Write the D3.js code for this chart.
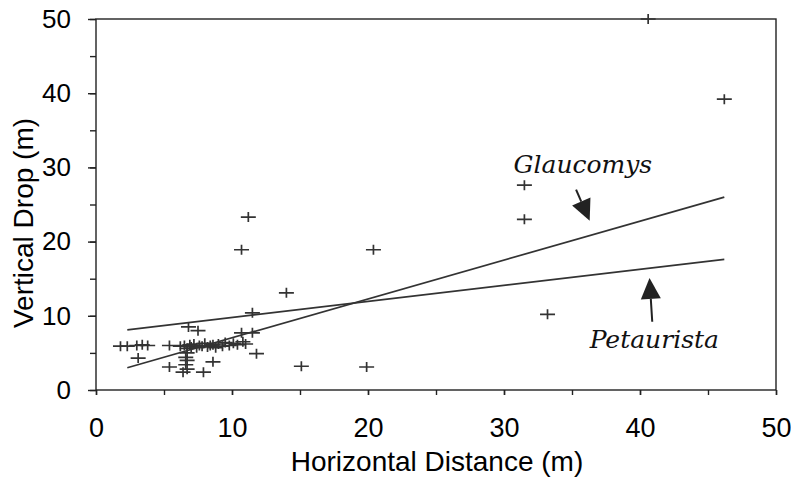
<!DOCTYPE html>
<html>
<head>
<meta charset="utf-8">
<script src="https://cdn.jsdelivr.net/npm/d3@7"></script>
<style>
  body { margin: 0; background: #fff; }
  svg { display: block; }
  .axis path, .axis line { stroke: #222; stroke-width: 1.4; }
  .axis text { fill: #000; font-family: 'Liberation Sans', Arial, sans-serif; }
</style>
</head>
<body>
<div id="chart"></div>
<script>
// glide observations: horizontal distance (m), vertical drop (m)
var distance = [
  40.6, 46.2, 31.5, 31.5, 33.2, 11.2, 10.7, 20.4, 14.0, 11.5,
  15.1, 19.9, 11.8, 7.9, 8.6, 5.4, 10.7, 11.5, 6.8, 7.5,
  1.8, 2.3, 3.0, 3.4, 3.8, 3.1, 6.4,
  5.4, 6.2, 6.5, 6.7, 6.9, 7.0, 7.2, 7.4, 7.6, 7.8, 8.0, 8.2,
  8.4, 8.6, 8.8, 9.0, 9.3, 9.5, 9.8, 10.1, 10.4, 10.8, 11.0,
  6.7, 6.6, 6.7, 6.6, 6.7
]
var drop = [
  50.0, 39.2, 27.6, 23.0, 10.2, 23.3, 18.9, 18.9, 13.1, 10.4,
  3.2, 3.1, 4.9, 2.4, 3.8, 3.1, 7.7, 7.7, 8.5, 8.0,
  5.9, 5.9, 6.0, 6.1, 6.0, 4.3, 2.4,
  6.0, 5.9, 6.0, 5.6, 6.1, 5.8, 6.2, 5.7, 6.0, 5.9, 6.3, 5.8,
  6.0, 6.1, 5.7, 6.2, 5.9, 6.4, 6.0, 6.3, 6.1, 6.5, 6.2,
  5.0, 4.4, 4.0, 3.4, 2.8
]

// fitted lines, [x, y] end points
var glaucomysLine = [[2.3, 3.0], [46.2, 26.0]]
var petauristaLine = [[2.3, 8.1], [46.2, 17.6]]

// labels with arrows: text anchor, arrow tail, arrow tip
var labels = [
  { name: 'Glaucomys', text: [30.7, 29.2], tail: [35.3, 27.0], tip: [36.3, 22.8] },
  { name: 'Petaurista', text: [36.3, 5.7], tail: [40.9, 9.2], tip: [40.7, 15.1] }
]

var xTicks = [0, 10, 20, 30, 40, 50]
var yTicks = [0, 10, 20, 30, 40, 50]
var minorTicks = [0, 5, 10, 15, 20, 25, 30, 35, 40, 45, 50]

var width = 791
var height = 477
var margin = { top: 19, right: 15, bottom: 87, left: 96 }

var svg = d3.select('#chart')
  .append('svg')
  .attr('width', width)
  .attr('height', height)

var x = d3.scaleLinear().domain([0, 50]).range([margin.left, width - margin.right])
var y = d3.scaleLinear().domain([0, 50]).range([height - margin.bottom, margin.top])

// frame
svg.append('rect')
  .attr('x', x(0))
  .attr('y', y(50))
  .attr('width', x(50) - x(0))
  .attr('height', y(0) - y(50))
  .attr('fill', 'none')
  .attr('stroke', '#222')
  .attr('stroke-width', 1.4)

// minor ticks every 5
svg.append('g')
  .attr('class', 'axis')
  .attr('transform', 'translate(0,' + y(0) + ')')
  .call(d3.axisBottom(x).tickValues(minorTicks).tickSize(5).tickFormat(''))
svg.append('g')
  .attr('class', 'axis')
  .attr('transform', 'translate(' + x(0) + ',0)')
  .call(d3.axisLeft(y).tickValues(minorTicks).tickSize(6).tickFormat(''))

// labelled ticks
var xAxis = svg.append('g')
  .attr('class', 'axis')
  .attr('transform', 'translate(0,' + y(0) + ')')
  .call(d3.axisBottom(x).tickValues(xTicks).tickSize(5).tickPadding(23))
xAxis.selectAll('text').style('font-size', '27px')

var yAxis = svg.append('g')
  .attr('class', 'axis')
  .attr('transform', 'translate(' + x(0) + ',0)')
  .call(d3.axisLeft(y).tickValues(yTicks).tickSize(8).tickPadding(17))
yAxis.selectAll('text').style('font-size', '26px')

svg.selectAll('.axis .domain').remove()

// axis titles
svg.append('text')
  .attr('x', 437)
  .attr('y', 471)
  .attr('text-anchor', 'middle')
  .style('font-family', "'Liberation Sans', Arial, sans-serif")
  .style('font-size', '28px')
  .attr('fill', '#000')
  .text('Horizontal Distance (m)')

svg.append('text')
  .attr('transform', 'translate(33,223)rotate(-90)')
  .attr('text-anchor', 'middle')
  .style('font-family', "'Liberation Sans', Arial, sans-serif")
  .style('font-size', '28px')
  .attr('fill', '#000')
  .text('Vertical Drop (m)')

// regression lines
var line = d3.line()
  .x(function(d) { return x(d[0]) })
  .y(function(d) { return y(d[1]) })

svg.selectAll('path.fit')
  .data([glaucomysLine, petauristaLine])
  .enter()
  .append('path')
  .attr('class', 'fit')
  .attr('d', line)
  .attr('fill', 'none')
  .attr('stroke', '#333')
  .attr('stroke-width', 1.7)

// observations as crosses
var points = distance.map(function(d, i) { return [d, drop[i]] })
svg.selectAll('path.obs')
  .data(points)
  .enter()
  .append('path')
  .attr('class', 'obs')
  .attr('d', function(d) {
    var px = x(d[0])
    var py = y(d[1])
    return 'M' + (px - 7.5) + ',' + py + 'h15M' + px + ',' + (py - 5) + 'v10'
  })
  .attr('stroke', '#333')
  .attr('stroke-width', 1.7)
  .attr('fill', 'none')

// species labels and arrows
var lab = svg.selectAll('g.label')
  .data(labels)
  .enter()
  .append('g')
  .attr('class', 'label')

lab.append('text')
  .attr('x', function(d) { return x(d.text[0]) })
  .attr('y', function(d) { return y(d.text[1]) })
  .style('font-family', "'DejaVu Serif', serif")
  .style('font-style', 'italic')
  .style('font-size', '25px')
  .attr('fill', '#111')
  .text(function(d) { return d.name })

lab.each(function(d) {
  var g = d3.select(this)
  var x0 = x(d.tail[0]), y0 = y(d.tail[1])
  var x1 = x(d.tip[0]), y1 = y(d.tip[1])
  var ang = Math.atan2(y1 - y0, x1 - x0)
  var headLen = 21
  var headHalf = 10
  var bx = x1 - headLen * Math.cos(ang)
  var by = y1 - headLen * Math.sin(ang)
  g.append('line')
    .attr('x1', x0).attr('y1', y0)
    .attr('x2', bx).attr('y2', by)
    .attr('stroke', '#222')
    .attr('stroke-width', 2)
  g.append('path')
    .attr('d', 'M' + x1 + ',' + y1 +
      'L' + (bx + headHalf * Math.sin(ang)) + ',' + (by - headHalf * Math.cos(ang)) +
      'L' + (bx - headHalf * Math.sin(ang)) + ',' + (by + headHalf * Math.cos(ang)) + 'Z')
    .attr('fill', '#222')
})
</script>
</body>
</html>
